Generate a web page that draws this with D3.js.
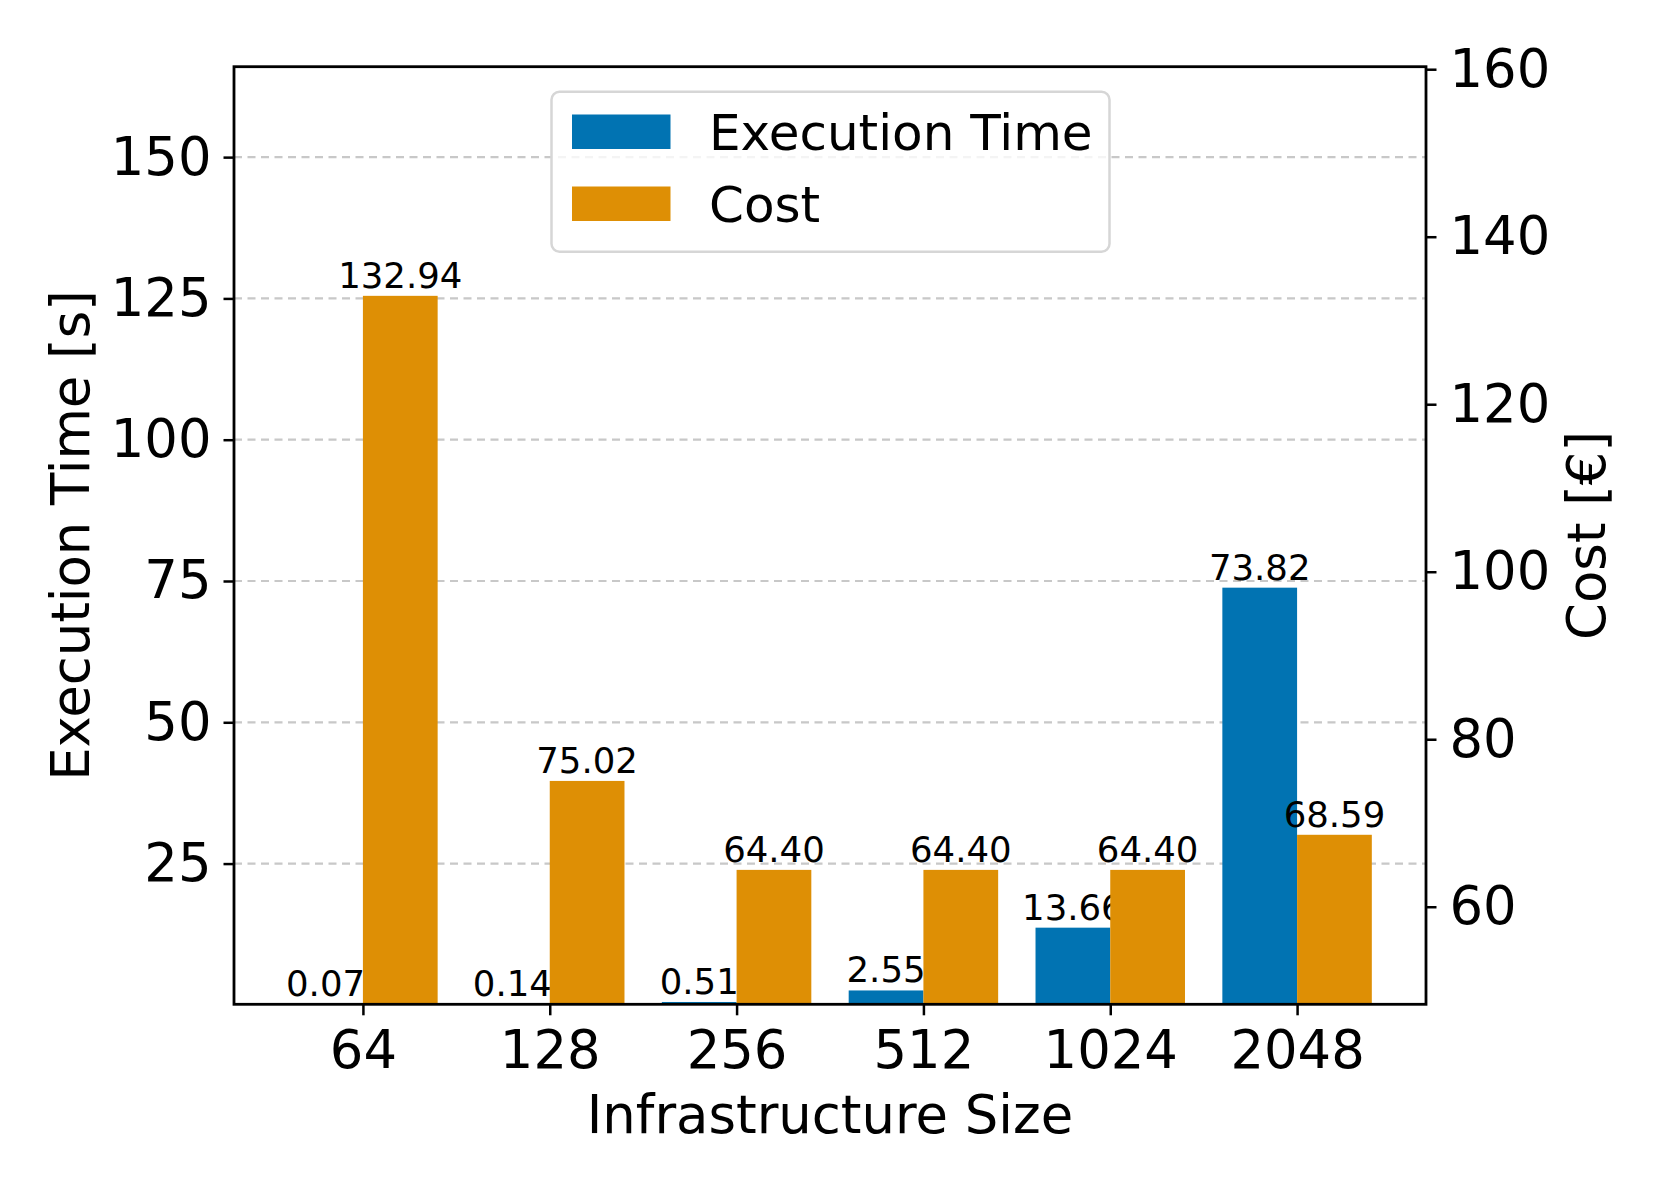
<!DOCTYPE html>
<html>
<head>
<meta charset="utf-8">
<script src="https://cdn.jsdelivr.net/npm/d3@7"></script>
<style>
html, body { margin: 0; padding: 0; background: #fff; }
svg { display: block; font-family: "DejaVu Sans", sans-serif; }
</style>
</head>
<body>
<svg id="chart" width="1661" height="1186"></svg>
<script>
// ---- data ----
const categories = ["64", "128", "256", "512", "1024", "2048"];
const execTime = [0.07, 0.14, 0.51, 2.55, 13.66, 73.82];
const cost = [132.94, 75.02, 64.40, 64.40, 64.40, 68.59];
const leftTicks = [25, 50, 75, 100, 125, 150];
const rightTicks = [60, 80, 100, 120, 140, 160];
const seriesNames = ["Execution Time", "Cost"];
const seriesColors = ["#0173b2", "#de8f05"];

// ---- layout ----
const L = 234, R = 1426, T = 66.7, B = 1004.3;
const FS = 52.8, FS_BAR = 35.5, FS_LEG = 50;
const svg = d3.select("#chart");
svg.append("rect").attr("width", 1661).attr("height", 1186).attr("fill", "#fff");

const x = d3.scaleLinear().domain([-0.69, 5.69]).range([L, R]);
const yL = d3.scaleLinear().domain([0.1, 166]).range([B, T]);
const yR = d3.scaleLinear().domain([48.35, 160.3]).range([B, T]);
const bw = 0.4;

// grid (left axis ticks)
svg.append("g").selectAll("line").data(leftTicks).join("line")
  .attr("x1", L).attr("x2", R)
  .attr("y1", d => yL(d)).attr("y2", d => yL(d))
  .attr("stroke", "#c8c8c8").attr("stroke-width", 2.2)
  .attr("stroke-dasharray", "8,5.5");

// execution time bars
const gE = svg.append("g");
gE.selectAll("rect").data(execTime).join("rect")
  .attr("x", (d, i) => x(i - bw))
  .attr("width", (d, i) => x(i) - x(i - bw))
  .attr("y", d => yL(d))
  .attr("height", d => B - yL(d))
  .attr("fill", seriesColors[0]);
gE.selectAll("text").data(execTime).join("text")
  .attr("x", (d, i) => x(i - bw / 2))
  .attr("y", d => yL(d) - 8)
  .attr("text-anchor", "middle")
  .attr("font-size", FS_BAR)
  .text(d => d.toFixed(2));

// cost bars
const gC = svg.append("g");
gC.selectAll("rect").data(cost).join("rect")
  .attr("x", (d, i) => x(i))
  .attr("width", (d, i) => x(i + bw) - x(i))
  .attr("y", d => yR(d))
  .attr("height", d => B - yR(d))
  .attr("fill", seriesColors[1]);
gC.selectAll("text").data(cost).join("text")
  .attr("x", (d, i) => x(i + bw / 2))
  .attr("y", d => yR(d) - 8)
  .attr("text-anchor", "middle")
  .attr("font-size", FS_BAR)
  .text(d => d.toFixed(2));

// axes
function styleAxis(g) {
  g.select(".domain").remove();
  g.selectAll(".tick line").attr("stroke", "#000").attr("stroke-width", 2.5);
  g.selectAll(".tick text").attr("font-size", FS).attr("fill", "#000")
    .attr("font-family", "DejaVu Sans, sans-serif");
}
const axL = svg.append("g").attr("transform", `translate(${L},0)`)
  .call(d3.axisLeft(yL).tickValues(leftTicks).tickSize(10.5).tickPadding(12));
styleAxis(axL);
const axR = svg.append("g").attr("transform", `translate(${R},0)`)
  .call(d3.axisRight(yR).tickValues(rightTicks).tickSize(10.5).tickPadding(13));
styleAxis(axR);
const axB = svg.append("g").attr("transform", `translate(0,${B})`)
  .call(d3.axisBottom(x).tickValues(d3.range(categories.length))
    .tickFormat(i => categories[i]).tickSize(11).tickPadding(15));
styleAxis(axB);

// frame
svg.append("rect").attr("x", L).attr("y", T).attr("width", R - L).attr("height", B - T)
  .attr("fill", "none").attr("stroke", "#000").attr("stroke-width", 2.8);

// axis labels
svg.append("text").attr("x", (L + R) / 2).attr("y", 1132.7)
  .attr("text-anchor", "middle").attr("font-size", FS).text("Infrastructure Size");
svg.append("text").attr("transform", `translate(88.5,${(T + B) / 2}) rotate(-90)`)
  .attr("text-anchor", "middle").attr("font-size", FS).text("Execution Time [s]");
svg.append("text").attr("transform", `translate(1605,${(T + B) / 2}) rotate(-90)`)
  .attr("text-anchor", "middle").attr("font-size", FS).text("Cost [€]");

// legend
const lg = svg.append("g");
lg.append("rect").attr("x", 551.5).attr("y", 91.7).attr("width", 558).attr("height", 160)
  .attr("rx", 8).attr("fill", "#fff").attr("fill-opacity", 0.8)
  .attr("stroke", "#d6d6d6").attr("stroke-width", 2.5);
const legRows = [132, 204];
seriesNames.forEach((name, i) => {
  lg.append("rect").attr("x", 572).attr("y", legRows[i] - 17.5).attr("width", 98.5).attr("height", 34.5)
    .attr("fill", seriesColors[i]);
  lg.append("text").attr("x", 709).attr("y", legRows[i] + 18)
    .attr("font-size", FS_LEG).text(name);
});
</script>
</body>
</html>
